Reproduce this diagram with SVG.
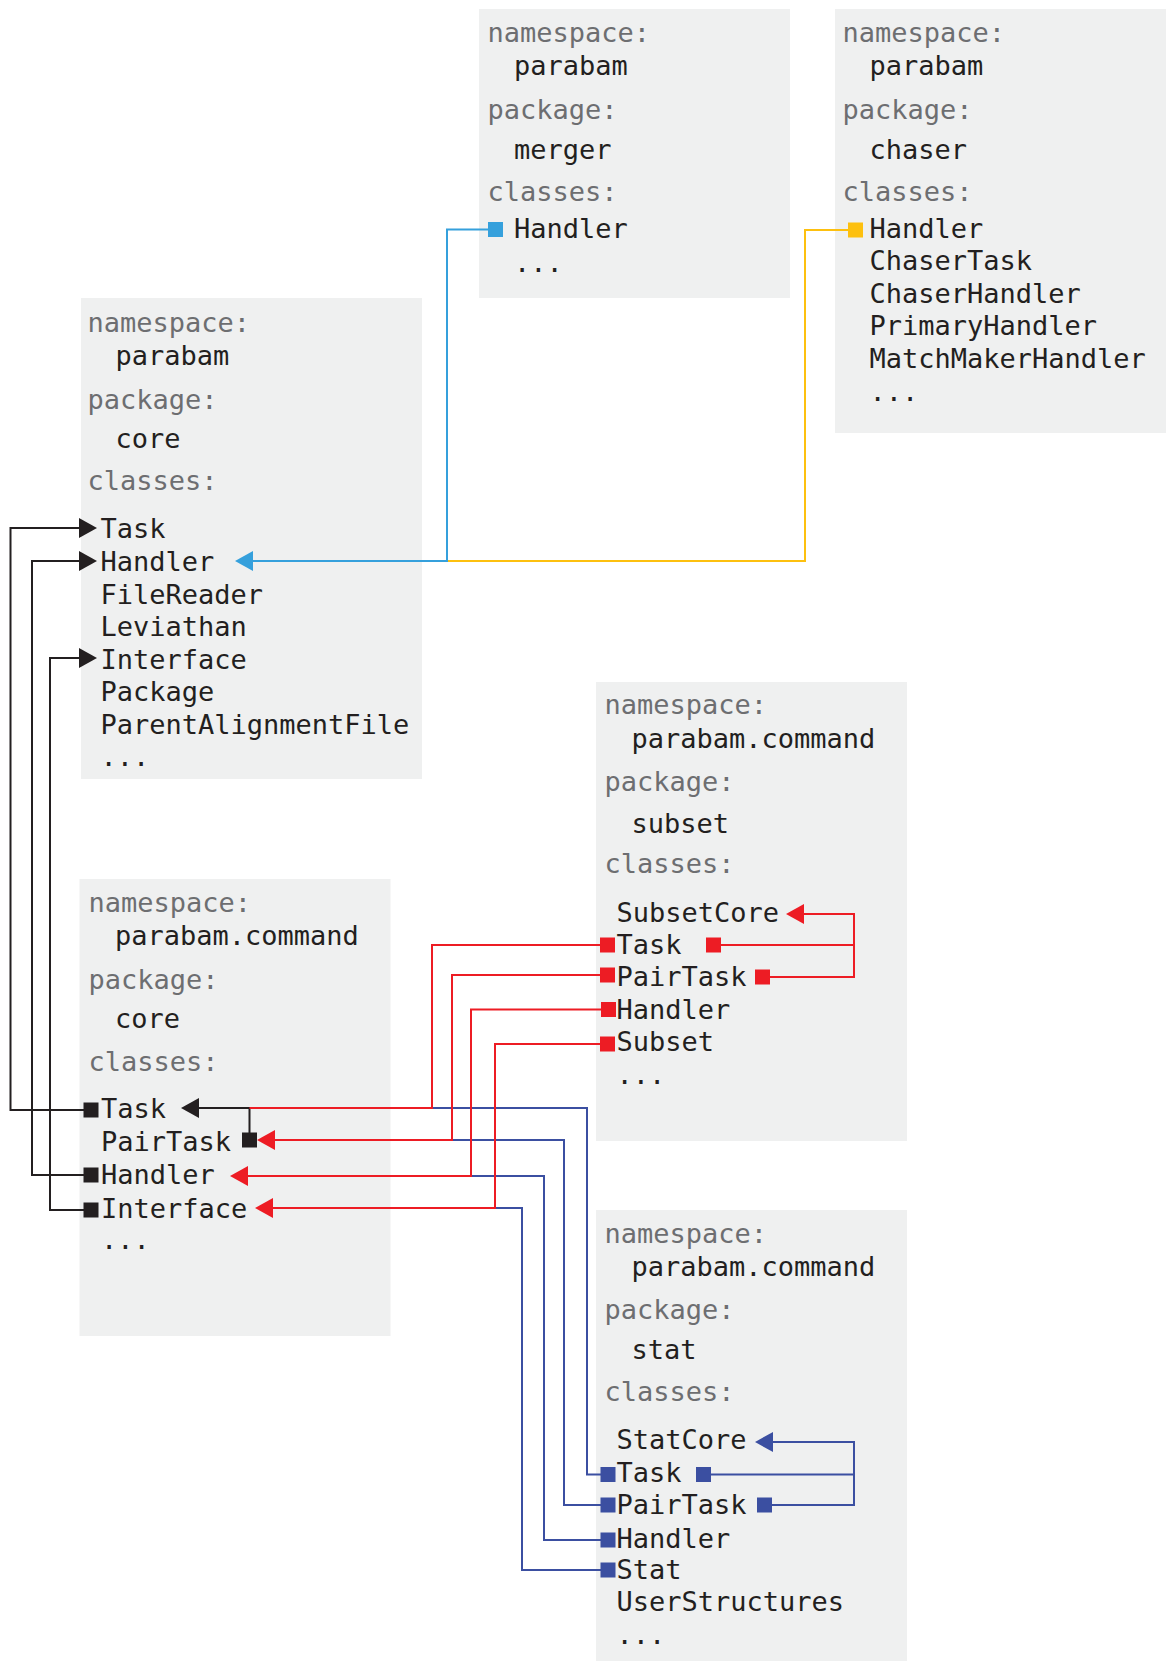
<svg xmlns="http://www.w3.org/2000/svg" width="1166" height="1661" viewBox="0 0 1166 1661">
  <style>
    .box { fill: #eff0f0; }
    text { font-family: "DejaVu Sans Mono", "Liberation Mono", monospace; font-size: 27px; }
    .lbl { fill: #6d6e71; }
    .val { fill: #231f20; }
    .ln { fill: none; stroke-width: 2; stroke-linejoin: miter; }
    .k { stroke: #231f20; }
    .r { stroke: #ed1c24; }
    .b { stroke: #35a0dc; }
    .y { stroke: #fdc00f; }
    .n { stroke: #3b4fa1; }
  </style>
  <defs>
    <!-- arrowheads: path ends at the base, head extends forward -->
    <marker id="ah-k" markerUnits="userSpaceOnUse" markerWidth="18" markerHeight="20" refX="0" refY="10" orient="auto" overflow="visible"><path d="M0,0 L18,10 L0,20 z" fill="#231f20"/></marker>
    <marker id="ah-r" markerUnits="userSpaceOnUse" markerWidth="18" markerHeight="20" refX="0" refY="10" orient="auto" overflow="visible"><path d="M0,0 L18,10 L0,20 z" fill="#ed1c24"/></marker>
    <marker id="ah-b" markerUnits="userSpaceOnUse" markerWidth="18" markerHeight="20" refX="0" refY="10" orient="auto" overflow="visible"><path d="M0,0 L18,10 L0,20 z" fill="#35a0dc"/></marker>
    <marker id="ah-n" markerUnits="userSpaceOnUse" markerWidth="18" markerHeight="20" refX="0" refY="10" orient="auto" overflow="visible"><path d="M0,0 L18,10 L0,20 z" fill="#3b4fa1"/></marker>
    <!-- square endpoints centred on the path start -->
    <marker id="sq-k" markerUnits="userSpaceOnUse" markerWidth="15" markerHeight="15" refX="7.5" refY="7.5" overflow="visible"><rect width="15" height="15" fill="#231f20"/></marker>
    <marker id="sq-r" markerUnits="userSpaceOnUse" markerWidth="15" markerHeight="15" refX="7.5" refY="7.5" overflow="visible"><rect width="15" height="15" fill="#ed1c24"/></marker>
    <marker id="sq-b" markerUnits="userSpaceOnUse" markerWidth="15" markerHeight="15" refX="7.5" refY="7.5" overflow="visible"><rect width="15" height="15" fill="#35a0dc"/></marker>
    <marker id="sq-y" markerUnits="userSpaceOnUse" markerWidth="15" markerHeight="15" refX="7.5" refY="7.5" overflow="visible"><rect width="15" height="15" fill="#fdc00f"/></marker>
    <marker id="sq-n" markerUnits="userSpaceOnUse" markerWidth="15" markerHeight="15" refX="7.5" refY="7.5" overflow="visible"><rect width="15" height="15" fill="#3b4fa1"/></marker>
  </defs>

  <rect width="1166" height="1661" fill="#ffffff"/>

  <!-- parabam / merger -->
  <g id="pkg-merger">
    <rect class="box" x="479" y="9" width="311" height="289"/>
    <text class="lbl" x="487.5" y="41.5">namespace:</text>
    <text class="val" x="514" y="74.5">parabam</text>
    <text class="lbl" x="487.5" y="118.5">package:</text>
    <text class="val" x="514" y="158.5">merger</text>
    <text class="lbl" x="487.5" y="200.5">classes:</text>
    <text class="val" x="514" y="237.5">Handler</text>
    <text class="val" x="514" y="271.5">...</text>
  </g>

  <!-- parabam / chaser -->
  <g id="pkg-chaser">
    <rect class="box" x="835" y="9" width="331" height="424"/>
    <text class="lbl" x="842.5" y="41.5">namespace:</text>
    <text class="val" x="869.5" y="74.5">parabam</text>
    <text class="lbl" x="842.5" y="118.5">package:</text>
    <text class="val" x="869.5" y="158.5">chaser</text>
    <text class="lbl" x="842.5" y="200.5">classes:</text>
    <text class="val" x="869.5" y="237.5">Handler</text>
    <text class="val" x="869.5" y="270">ChaserTask</text>
    <text class="val" x="869.5" y="302.5">ChaserHandler</text>
    <text class="val" x="869.5" y="335">PrimaryHandler</text>
    <text class="val" x="869.5" y="367.5">MatchMakerHandler</text>
    <text class="val" x="869.5" y="400.5">...</text>
  </g>

  <!-- parabam / core -->
  <g id="pkg-core">
    <rect class="box" x="81" y="298" width="341" height="481"/>
    <text class="lbl" x="87.5" y="331.5">namespace:</text>
    <text class="val" x="115.5" y="364.5">parabam</text>
    <text class="lbl" x="87.5" y="408.5">package:</text>
    <text class="val" x="115.5" y="447.5">core</text>
    <text class="lbl" x="87.5" y="489.5">classes:</text>
    <text class="val" x="100.5" y="537.5">Task</text>
    <text class="val" x="100.5" y="570.5">Handler</text>
    <text class="val" x="100.5" y="603.5">FileReader</text>
    <text class="val" x="100.5" y="635.5">Leviathan</text>
    <text class="val" x="100.5" y="668.5">Interface</text>
    <text class="val" x="100.5" y="700.5">Package</text>
    <text class="val" x="100.5" y="733.5">ParentAlignmentFile</text>
    <text class="val" x="100.5" y="765.5">...</text>
  </g>

  <!-- parabam.command / subset -->
  <g id="pkg-subset">
    <rect class="box" x="596" y="682" width="311" height="459"/>
    <text class="lbl" x="604.5" y="713.5">namespace:</text>
    <text class="val" x="631.5" y="747.5">parabam.command</text>
    <text class="lbl" x="604.5" y="790.5">package:</text>
    <text class="val" x="631.5" y="832.5">subset</text>
    <text class="lbl" x="604.5" y="872.5">classes:</text>
    <text class="val" x="616.5" y="921.5">SubsetCore</text>
    <text class="val" x="616.5" y="953.5">Task</text>
    <text class="val" x="616.5" y="985.5">PairTask</text>
    <text class="val" x="616.5" y="1018.5">Handler</text>
    <text class="val" x="616.5" y="1050.5">Subset</text>
    <text class="val" x="616.5" y="1083.5">...</text>
  </g>

  <!-- parabam.command / core -->
  <g id="pkg-command-core">
    <rect class="box" x="79.5" y="879" width="311" height="457"/>
    <text class="lbl" x="88.5" y="911.5">namespace:</text>
    <text class="val" x="115" y="944.5">parabam.command</text>
    <text class="lbl" x="88.5" y="988.5">package:</text>
    <text class="val" x="115" y="1027.5">core</text>
    <text class="lbl" x="88.5" y="1070.5">classes:</text>
    <text class="val" x="101" y="1117.5">Task</text>
    <text class="val" x="101" y="1150.5">PairTask</text>
    <text class="val" x="101" y="1183.5">Handler</text>
    <text class="val" x="101" y="1217.5">Interface</text>
    <text class="val" x="101" y="1248.5">...</text>
  </g>

  <!-- parabam.command / stat -->
  <g id="pkg-stat">
    <rect class="box" x="596" y="1210" width="311" height="451"/>
    <text class="lbl" x="604.5" y="1242.5">namespace:</text>
    <text class="val" x="631.5" y="1275.5">parabam.command</text>
    <text class="lbl" x="604.5" y="1318.5">package:</text>
    <text class="val" x="631.5" y="1358.5">stat</text>
    <text class="lbl" x="604.5" y="1400.5">classes:</text>
    <text class="val" x="616.5" y="1448.5">StatCore</text>
    <text class="val" x="616.5" y="1481.5">Task</text>
    <text class="val" x="616.5" y="1513.5">PairTask</text>
    <text class="val" x="616.5" y="1547.5">Handler</text>
    <text class="val" x="616.5" y="1578.5">Stat</text>
    <text class="val" x="616.5" y="1610.5">UserStructures</text>
    <text class="val" x="616.5" y="1643.5">...</text>
  </g>

  <g id="connectors">
    <!-- chaser / merger Handler into core Handler -->
    <path class="ln y" d="M855.5,230 H805 V561 H447" marker-start="url(#sq-y)"/>
    <path class="ln b" d="M495.5,229.5 H447 V561 H253" marker-start="url(#sq-b)" marker-end="url(#ah-b)"/>

    <!-- command core into parabam core -->
    <path class="ln k" d="M91,1110 H10.5 V528 H79" marker-start="url(#sq-k)" marker-end="url(#ah-k)"/>
    <path class="ln k" d="M91,1175 H32 V561 H79" marker-start="url(#sq-k)" marker-end="url(#ah-k)"/>
    <path class="ln k" d="M91,1210 H50 V658 H79" marker-start="url(#sq-k)" marker-end="url(#ah-k)"/>
    <path class="ln k" d="M249.5,1140 V1108 H199" marker-start="url(#sq-k)" marker-end="url(#ah-k)"/>

    <!-- stat into command core -->
    <path class="ln n" d="M608,1474.5 H587 V1108 H432" marker-start="url(#sq-n)"/>
    <path class="ln n" d="M608,1505 H564 V1140 H452" marker-start="url(#sq-n)"/>
    <path class="ln n" d="M608,1540 H544 V1176 H471" marker-start="url(#sq-n)"/>
    <path class="ln n" d="M608,1570 H522 V1208 H495" marker-start="url(#sq-n)"/>

    <!-- subset into command core -->
    <path class="ln r" d="M607.5,945 H432 V1108 H249.5" marker-start="url(#sq-r)"/>
    <path class="ln r" d="M607.5,975 H452 V1140 H275" marker-start="url(#sq-r)" marker-end="url(#ah-r)"/>
    <path class="ln r" d="M608.5,1009.5 H471 V1176 H248" marker-start="url(#sq-r)" marker-end="url(#ah-r)"/>
    <path class="ln r" d="M607.5,1044 H495 V1208 H273" marker-start="url(#sq-r)" marker-end="url(#ah-r)"/>

    <!-- subset internal -->
    <path class="ln r" d="M713.5,945 H854" marker-start="url(#sq-r)"/>
    <path class="ln r" d="M762.5,977 H854 V914 H804" marker-start="url(#sq-r)" marker-end="url(#ah-r)"/>

    <!-- stat internal -->
    <path class="ln n" d="M703.5,1474.5 H854" marker-start="url(#sq-n)"/>
    <path class="ln n" d="M764.5,1505 H854 V1442 H773" marker-start="url(#sq-n)" marker-end="url(#ah-n)"/>
  </g>
</svg>
